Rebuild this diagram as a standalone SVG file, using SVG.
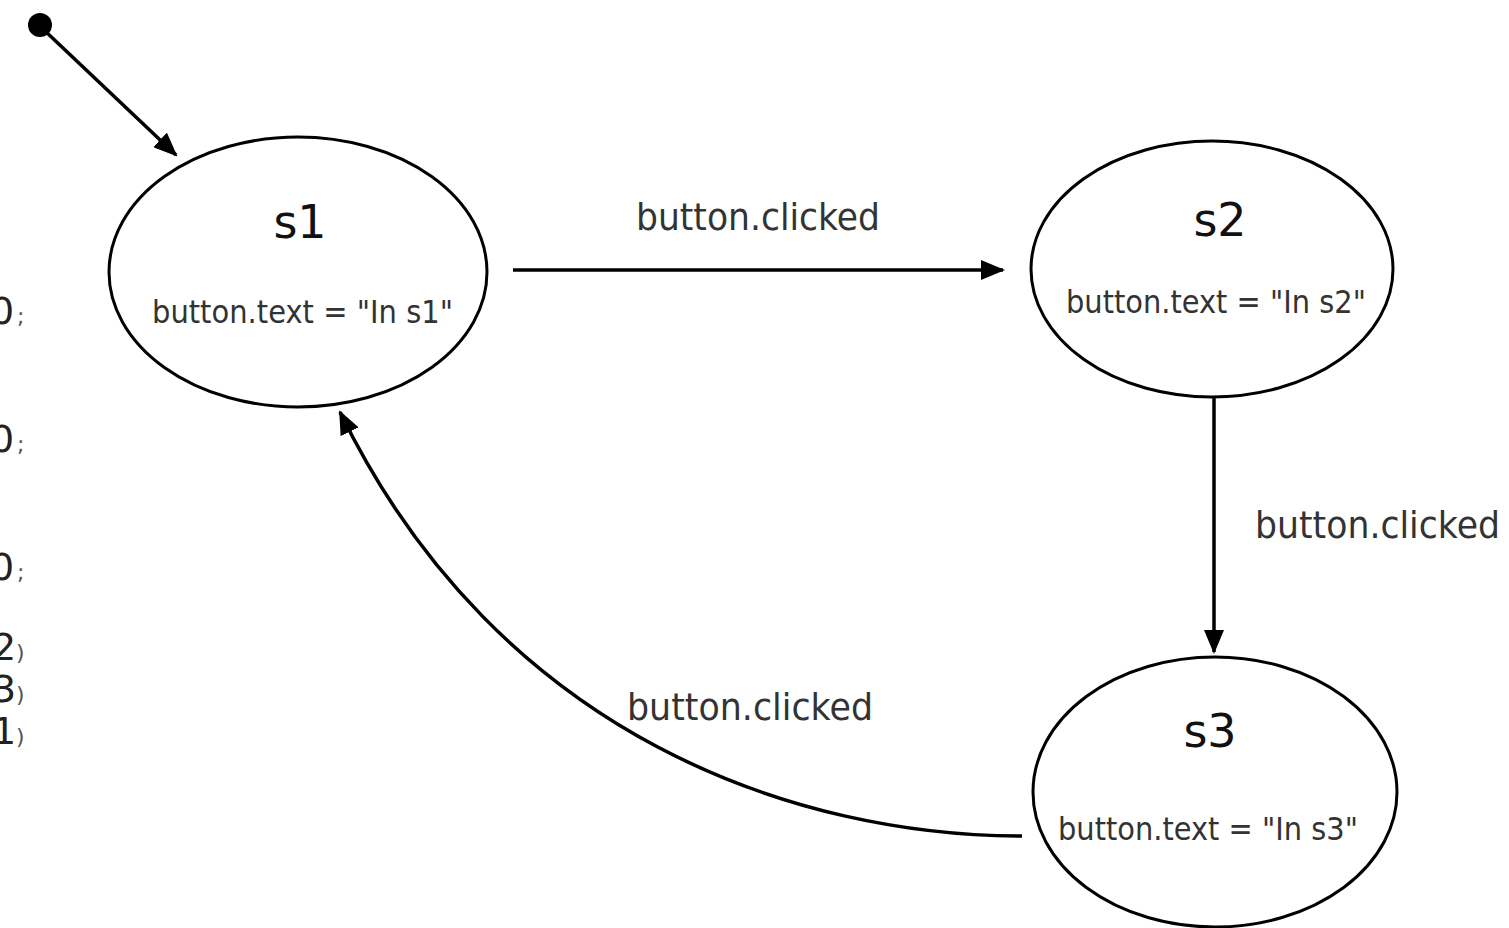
<svg xmlns="http://www.w3.org/2000/svg" width="1509" height="928" viewBox="0 0 1509 928">
<defs>
<marker id="arr" markerWidth="24" markerHeight="20" refX="22" refY="10" orient="auto" markerUnits="userSpaceOnUse">
<path d="M0,0 L24,10 L0,20 Z" fill="#000"/>
</marker>
<style>
.st{fill:#fff;stroke:#000;stroke-width:3}
.ttl{font-family:"DejaVu Sans",sans-serif;font-size:46px;fill:#111;text-anchor:middle}
.act{font-family:"DejaVu Sans",sans-serif;font-size:32px;fill:#333}
.lbl{font-family:"DejaVu Sans",sans-serif;font-size:38px;fill:#333}
.frag{font-family:"DejaVu Sans",sans-serif;font-size:38px;fill:#222}
.fragm{font-family:"DejaVu Sans",sans-serif;font-size:22px;fill:#555}
.edge{fill:none;stroke:#000;stroke-width:3.5}
</style>
</defs>
<rect width="1509" height="928" fill="#fff"/>
<g id="fragments">
<text class="frag" x="-10" y="324">0</text><text class="fragm" x="17" y="324">;</text>
<text class="frag" x="-10" y="452">0</text><text class="fragm" x="17" y="452">;</text>
<text class="frag" x="-10" y="580">0</text><text class="fragm" x="17" y="580">;</text>
<text class="frag" x="-8" y="660">2</text><text class="fragm" x="16" y="660">)</text>
<text class="frag" x="-8" y="702">3</text><text class="fragm" x="16" y="702">)</text>
<text class="frag" x="-8" y="744">1</text><text class="fragm" x="16" y="744">)</text>
</g>
<g id="init">
<circle cx="40" cy="25" r="12" fill="#000"/>
</g>
<g id="connectors">
<line class="edge" x1="44" y1="30" x2="176" y2="155" marker-end="url(#arr)"/>
<line class="edge" x1="513" y1="270" x2="1003" y2="270" marker-end="url(#arr)"/>
<line class="edge" x1="1214" y1="398" x2="1214" y2="652" marker-end="url(#arr)"/>
<path class="edge" d="M1022,836 C800,836 500,740 340,412" marker-end="url(#arr)"/>
<text class="lbl" x="636" y="230" textLength="244" lengthAdjust="spacingAndGlyphs">button.clicked</text>
<text class="lbl" x="1255" y="538" textLength="245" lengthAdjust="spacingAndGlyphs">button.clicked</text>
<text class="lbl" x="627" y="720" textLength="246" lengthAdjust="spacingAndGlyphs">button.clicked</text>
</g>
<g id="s1">
<ellipse class="st" cx="298" cy="272" rx="189" ry="135"/>
<text class="ttl" x="300" y="238">s1</text>
<text class="act" x="152" y="323" textLength="301" lengthAdjust="spacingAndGlyphs">button.text = "In s1"</text>
</g>
<g id="s2">
<ellipse class="st" cx="1212" cy="269" rx="181" ry="128"/>
<text class="ttl" x="1220" y="236">s2</text>
<text class="act" x="1066" y="313" textLength="300" lengthAdjust="spacingAndGlyphs">button.text = "In s2"</text>
</g>
<g id="s3">
<ellipse class="st" cx="1215" cy="792" rx="182" ry="135"/>
<text class="ttl" x="1210" y="747">s3</text>
<text class="act" x="1058" y="840" textLength="300" lengthAdjust="spacingAndGlyphs">button.text = "In s3"</text>
</g>
</svg>
